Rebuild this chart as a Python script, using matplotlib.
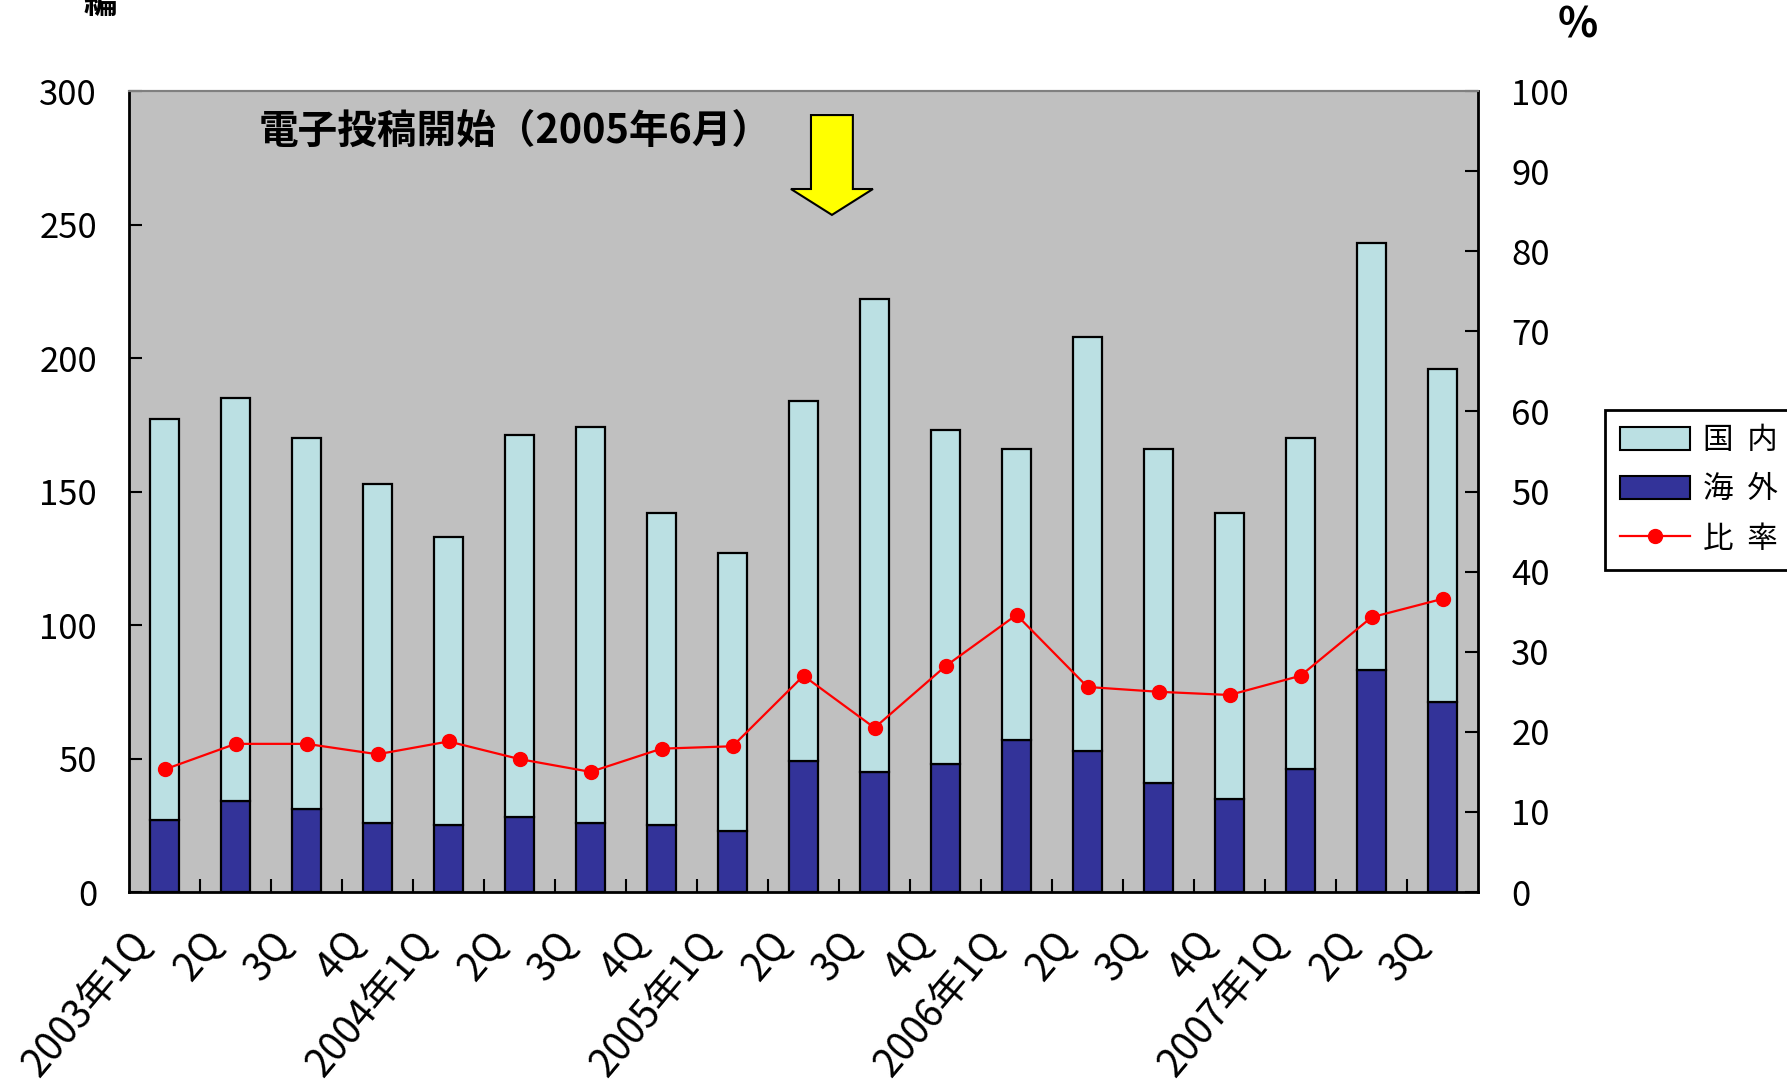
import numpy as np
import matplotlib
matplotlib.use("Agg")
import matplotlib.pyplot as plt
import matplotlib.transforms as mtransforms
from matplotlib.patches import FancyArrow, Patch
from matplotlib.lines import Line2D

plt.rcParams['font.family'] = ['Noto Sans CJK JP', 'DejaVu Sans']

# datos
trimestres = ["2003年1Q", "2Q", "3Q", "4Q",
              "2004年1Q", "2Q", "3Q", "4Q",
              "2005年1Q", "2Q", "3Q", "4Q",
              "2006年1Q", "2Q", "3Q", "4Q",
              "2007年1Q", "2Q", "3Q"]
total = [177, 185, 170, 153, 133, 171, 174, 142, 127, 184,
         222, 173, 166, 208, 166, 142, 170, 243, 196]
kaigai = [27, 34, 31, 26, 25, 28, 26, 25, 23, 49,
          45, 48, 57, 53, 41, 35, 46, 83, 71]
hiritsu = [15.3, 18.5, 18.5, 17.2, 18.8, 16.6, 15.0, 17.9, 18.2, 27.0,
           20.5, 28.2, 34.6, 25.6, 25.0, 24.6, 27.0, 34.3, 36.6]
kokunai = [t - k for t, k in zip(total, kaigai)]

C_KOKUNAI = "#bbe0e3"
C_KAIGAI = "#333399"
C_FONDO = "#c0c0c0"

fig = plt.figure(figsize=(17.87, 10.81), dpi=100)
ax = fig.add_axes([0.0722, 0.1748, 0.8271 - 0.0722, 0.9158 - 0.1748])
ax.set_facecolor(C_FONDO)

x = np.arange(len(trimestres))
ax.bar(x, kaigai, width=0.41, color=C_KAIGAI, edgecolor="black", linewidth=1.6, zorder=2)
ax.bar(x, kokunai, width=0.41, bottom=kaigai, color=C_KOKUNAI, edgecolor="black",
       linewidth=1.6, zorder=2)

ax.set_xlim(-0.5, len(trimestres) - 0.5)
ax.set_ylim(0, 300)
ax.set_yticks(range(0, 301, 50))
ax.tick_params(axis="y", direction="in", length=9.4, width=1.5, pad=23, labelsize=25)

ax.set_xticks(x)
ax.set_xticklabels(trimestres, rotation=50, ha="right", va="top", rotation_mode="anchor")
ax.set_xticks(x[:-1] + 0.5, minor=True)
ax.tick_params(axis="x", which="major", length=0, pad=23, labelsize=28)
ax.tick_params(axis="x", which="minor", direction="in", length=9.4, width=1.5)
desplaza = mtransforms.ScaledTranslation(-36 / 100, 0, fig.dpi_scale_trans)
for lbl in ax.get_xticklabels():
    lbl.set_transform(lbl.get_transform() + desplaza)

for lado in ["left", "bottom"]:
    ax.spines[lado].set_linewidth(2)
ax.spines["top"].set_color("#808080")
ax.spines["top"].set_linewidth(1.5)

ax2 = ax.twinx()
ax2.plot(x, hiritsu, color="red", linewidth=1.6, marker="o", markersize=10, zorder=3)
ax2.set_ylim(0, 100)
ax2.set_yticks(range(0, 101, 10))
ax2.tick_params(axis="y", direction="in", length=9.4, width=1.5, pad=24, labelsize=25)
ax2.spines["right"].set_linewidth(2)
ax2.spines["top"].set_color("#808080")
ax2.spines["top"].set_linewidth(1.5)
ax2.spines["left"].set_visible(False)
ax2.spines["bottom"].set_visible(False)

# flecha y texto del inicio de envio electronico
ax.add_patch(FancyArrow(9.40, 291, 0, -37.4, width=0.59, head_width=1.155,
                        head_length=9.7, length_includes_head=True,
                        facecolor="#ffff00", edgecolor="black", linewidth=1.5, zorder=4))
ax.text(1.33, 285, "電子投稿開始（2005年6月）", fontsize=28.5, fontweight="bold",
        va="center", ha="left", zorder=4)

fig.text(0.056, 1 - 4 / 1081, "編", fontsize=24, fontweight="bold", ha="center", va="center")
fig.text(0.883, 1 - 26 / 1081, "%", fontsize=30, fontweight="bold", ha="center", va="center")

manejadores = [Patch(facecolor=C_KOKUNAI, edgecolor="black", linewidth=1.5),
               Patch(facecolor=C_KAIGAI, edgecolor="black", linewidth=1.5),
               Line2D([], [], color="red", linewidth=1.6, marker="o", markersize=10)]
leg = fig.legend(manejadores, ["国  内", "海  外", "比  率"], loc="upper left",
                 bbox_to_anchor=(0.898, 0.621), borderaxespad=0, fontsize=22,
                 fancybox=False, framealpha=1, edgecolor="black",
                 handlelength=2.3, handleheight=0.8, borderpad=0.5, labelspacing=0.6,
                 handletextpad=0.4)
leg.get_frame().set_linewidth(2)

fig.savefig("out.png", dpi=100)
